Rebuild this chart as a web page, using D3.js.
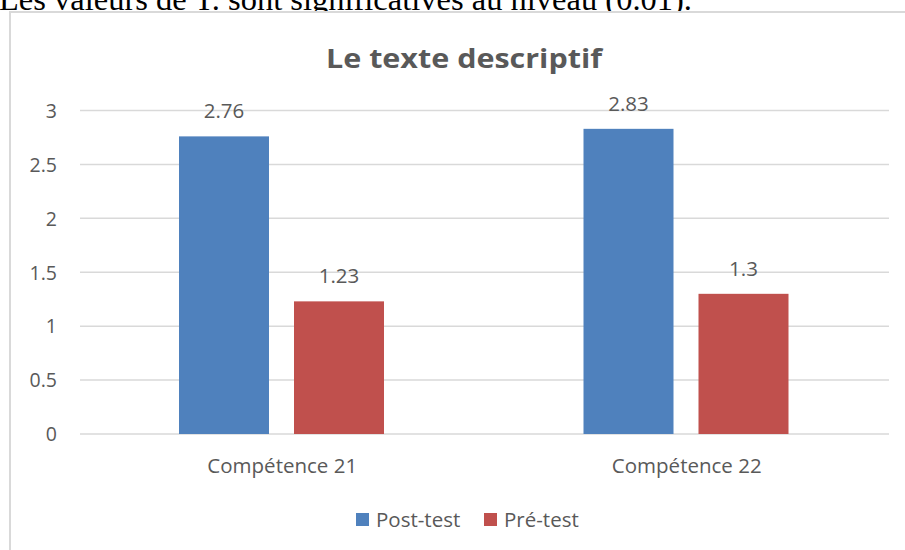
<!DOCTYPE html>
<html><head><meta charset="utf-8">
<script src="https://cdn.jsdelivr.net/npm/d3@7"></script>
<style>body{margin:0;background:#fff;} svg{display:block;}</style>
</head><body>
<svg id="c" width="905" height="550"></svg>
<script>
const categories = ["Compétence 21", "Compétence 22"];
const seriesNames = ["Post-test", "Pré-test"];
const postTest = [2.76, 2.83];
const preTest = [1.23, 1.3];
const yTicks = [0, 0.5, 1, 1.5, 2, 2.5, 3];
const colors = ["#4F81BD", "#C0504D"];

const svg = d3.select("#c");
const font = "'Open Sans', sans-serif";
const gray = "#595959";

// caption text above (cut off)
svg.append("text").attr("x", -1).attr("y", 10)
  .attr("font-family", "'Liberation Serif', 'Times New Roman', serif")
  .attr("font-size", 32).attr("fill", "#000")
  .attr("textLength", 693).attr("lengthAdjust", "spacingAndGlyphs")
  .text("Les valeurs de T. sont significatives au niveau (0.01).");

// chart frame
svg.append("rect").attr("x", 10).attr("y", 12).attr("width", 910).attr("height", 560)
  .attr("fill", "#fff").attr("stroke", "#d9d9d9").attr("stroke-width", 2);

// title
svg.append("text").attr("x", 464).attr("y", 68).attr("text-anchor", "middle")
  .attr("font-family", font).attr("font-weight", "bold").attr("font-size", 27)
  .attr("fill", gray).attr("textLength", 276).attr("lengthAdjust", "spacingAndGlyphs")
  .text("Le texte descriptif");

const x0 = d3.scaleBand().domain(categories).range([80, 889]);
const x1 = d3.scaleBand().domain(seriesNames).range([99, 304]).paddingInner(25 / 115);
const y = d3.scaleLinear().domain([0, 3]).range([434, 110.5]);

// gridlines
svg.append("g").selectAll("line").data(yTicks).join("line")
  .attr("x1", 80).attr("x2", 889)
  .attr("y1", d => y(d)).attr("y2", d => y(d))
  .attr("stroke", "#d9d9d9").attr("stroke-width", 1.5);

// y axis labels
const yAxis = d3.axisLeft(y).tickValues(yTicks).tickSize(0).tickPadding(0).tickFormat(d => d);
const ga = svg.append("g").attr("transform", "translate(57,0)").call(yAxis);
ga.select(".domain").remove();
ga.selectAll("text").attr("font-family", font).attr("font-size", 19.5).attr("fill", gray).attr("dy", "0.35em");

const data = categories.map((c, i) => ({cat: c, vals: [postTest[i], preTest[i]]}));
const groups = svg.append("g").selectAll("g").data(data).join("g")
  .attr("transform", d => `translate(${x0(d.cat)},0)`);
groups.selectAll("rect").data(d => d.vals.map((v, j) => ({v, s: seriesNames[j], j}))).join("rect")
  .attr("x", d => x1(d.s)).attr("width", x1.bandwidth())
  .attr("y", d => y(d.v)).attr("height", d => y(0) - y(d.v))
  .attr("fill", d => colors[d.j]);
groups.selectAll("text").data(d => d.vals.map((v, j) => ({v, s: seriesNames[j], j}))).join("text")
  .attr("x", d => x1(d.s) + x1.bandwidth() / 2).attr("y", d => y(d.v) - 18)
  .attr("text-anchor", "middle").attr("font-family", font).attr("font-size", 20.5).attr("fill", gray)
  .text(d => d.v);

// x axis labels
const xAxis = d3.axisBottom(x0).tickSize(0).tickPadding(0);
const gx = svg.append("g").attr("transform", "translate(0,473)").call(xAxis);
gx.select(".domain").remove();
gx.selectAll("text").attr("font-family", font).attr("font-size", 20.5).attr("fill", gray).attr("dy", 0);

// legend
const legX = [356, 484];
const lg = svg.append("g").selectAll("g").data(seriesNames).join("g")
  .attr("transform", (d, i) => `translate(${legX[i]},513)`);
lg.append("rect").attr("width", 13).attr("height", 13).attr("fill", (d, i) => colors[i]);
lg.append("text").attr("x", 20).attr("y", 14)
  .attr("font-family", font).attr("font-size", 20.5).attr("fill", gray).text(d => d);
</script>
</body></html>
